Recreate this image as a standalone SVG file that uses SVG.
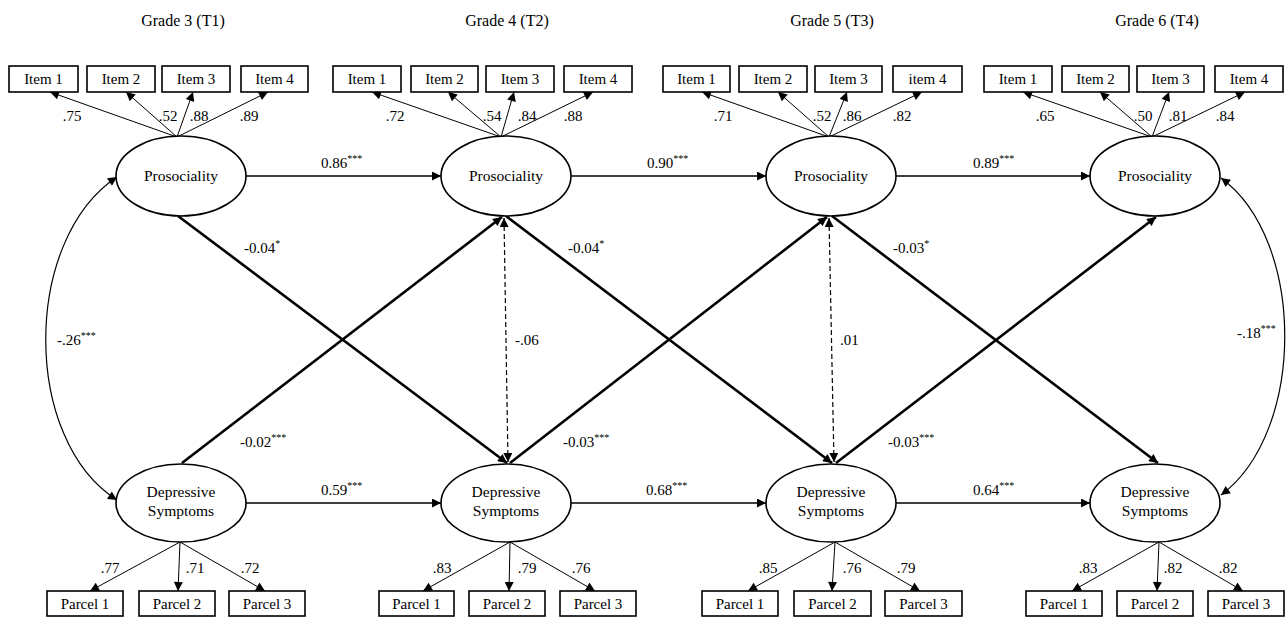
<svg xmlns="http://www.w3.org/2000/svg" width="1287" height="618" viewBox="0 0 1287 618">
<style>
text{font-family:"Liberation Serif","Times New Roman",serif;fill:#000}
.t{font-size:16px;text-anchor:middle}
.bx{fill:#fff;stroke:#000;stroke-width:1.6}
.el{fill:#fff;stroke:#000;stroke-width:1.6}
.bt{font-size:15px;text-anchor:middle}
.et{font-size:15.5px;text-anchor:middle}
.lb{font-size:15px}
.lc{font-size:15px;text-anchor:middle}
.thin{stroke:#000;stroke-width:1;fill:none;marker-end:url(#ah)}
.med{stroke:#000;stroke-width:1.6;fill:none;marker-end:url(#ah)}
.thick{stroke:#000;stroke-width:2.6;fill:none;marker-end:url(#ah)}
.dash{stroke:#000;stroke-width:1.2;fill:none;stroke-dasharray:5,3;marker-start:url(#ah);marker-end:url(#ah)}
.cov{stroke:#000;stroke-width:1.2;fill:none;marker-start:url(#ah);marker-end:url(#ah)}
.sup{font-size:10px}
</style>
<defs>
<marker id="ah" viewBox="0 0 10 10" refX="10" refY="5" markerWidth="11" markerHeight="9" markerUnits="userSpaceOnUse" orient="auto-start-reverse"><path d="M0,0 L10,5 L0,10 z" fill="#000"/></marker>
</defs>

<g id="titles">
<text class="t" x="183" y="26">Grade 3 (T1)</text>
<text class="t" x="507" y="26">Grade 4 (T2)</text>
<text class="t" x="832" y="26">Grade 5 (T3)</text>
<text class="t" x="1157" y="26">Grade 6 (T4)</text>
</g>

<g id="connectors">
<!-- item loadings -->
<line class="thin" x1="177" y1="137" x2="50" y2="92"/>
<line class="thin" x1="177" y1="137" x2="126" y2="92"/>
<line class="thin" x1="177" y1="137" x2="193" y2="92"/>
<line class="thin" x1="177" y1="137" x2="268" y2="92"/>
<line class="thin" x1="501" y1="137" x2="372" y2="92"/>
<line class="thin" x1="501" y1="137" x2="448" y2="92"/>
<line class="thin" x1="501" y1="137" x2="514" y2="92"/>
<line class="thin" x1="501" y1="137" x2="593" y2="92"/>
<line class="thin" x1="829" y1="137" x2="702" y2="92"/>
<line class="thin" x1="829" y1="137" x2="778" y2="92"/>
<line class="thin" x1="829" y1="137" x2="847" y2="92"/>
<line class="thin" x1="829" y1="137" x2="922" y2="92"/>
<line class="thin" x1="1152" y1="137" x2="1023" y2="92"/>
<line class="thin" x1="1152" y1="137" x2="1100" y2="92"/>
<line class="thin" x1="1152" y1="137" x2="1169" y2="92"/>
<line class="thin" x1="1152" y1="137" x2="1245" y2="92"/>
<!-- parcel loadings -->
<line class="thin" x1="180" y1="542" x2="90" y2="591"/>
<line class="thin" x1="180" y1="542" x2="178" y2="591"/>
<line class="thin" x1="180" y1="542" x2="265" y2="591"/>
<line class="thin" x1="510" y1="542" x2="423" y2="591"/>
<line class="thin" x1="510" y1="542" x2="509" y2="591"/>
<line class="thin" x1="510" y1="542" x2="595" y2="591"/>
<line class="thin" x1="835" y1="542" x2="748" y2="591"/>
<line class="thin" x1="835" y1="542" x2="832" y2="591"/>
<line class="thin" x1="835" y1="542" x2="920" y2="591"/>
<line class="thin" x1="1159" y1="542" x2="1072" y2="591"/>
<line class="thin" x1="1159" y1="542" x2="1157" y2="591"/>
<line class="thin" x1="1159" y1="542" x2="1243" y2="591"/>
<!-- autoregressive -->
<line class="med" x1="246" y1="176" x2="441" y2="176"/>
<line class="med" x1="571" y1="176" x2="766" y2="176"/>
<line class="med" x1="896" y1="176" x2="1090" y2="176"/>
<line class="med" x1="246" y1="503" x2="441" y2="503"/>
<line class="med" x1="571" y1="503" x2="766" y2="503"/>
<line class="med" x1="896" y1="503" x2="1090" y2="503"/>
<!-- cross-lagged -->
<line class="thick" x1="178" y1="216" x2="507" y2="463"/>
<line class="thick" x1="182" y1="463" x2="502" y2="217"/>
<line class="thick" x1="506" y1="216" x2="832" y2="463"/>
<line class="thick" x1="510" y1="463" x2="827" y2="217"/>
<line class="thick" x1="832" y1="216" x2="1158" y2="463"/>
<line class="thick" x1="836" y1="463" x2="1156" y2="217"/>
<!-- within-time residual covariances -->
<line class="dash" x1="504" y1="218" x2="508" y2="462"/>
<line class="dash" x1="829" y1="218" x2="834" y2="462"/>
<!-- T1 and T4 covariances -->
<path class="cov" d="M117,177 C22,240 22,440 117,500"/>
<path class="cov" d="M1221,178 C1306,240 1306,432 1221,495"/>
</g>

<g id="labels">
<text class="lc" x="72" y="121">.75</text>
<text class="lc" x="168" y="121">.52</text>
<text class="lc" x="199" y="121">.88</text>
<text class="lc" x="249" y="121">.89</text>
<text class="lc" x="395" y="121">.72</text>
<text class="lc" x="492" y="121">.54</text>
<text class="lc" x="527" y="121">.84</text>
<text class="lc" x="573" y="121">.88</text>
<text class="lc" x="723" y="121">.71</text>
<text class="lc" x="822" y="121">.52</text>
<text class="lc" x="852" y="121">.86</text>
<text class="lc" x="902" y="121">.82</text>
<text class="lc" x="1045" y="121">.65</text>
<text class="lc" x="1143" y="121">.50</text>
<text class="lc" x="1178" y="121">.81</text>
<text class="lc" x="1225" y="121">.84</text>

<text class="lc" x="110" y="573">.77</text>
<text class="lc" x="195" y="573">.71</text>
<text class="lc" x="250" y="573">.72</text>
<text class="lc" x="442" y="573">.83</text>
<text class="lc" x="527" y="573">.79</text>
<text class="lc" x="581" y="573">.76</text>
<text class="lc" x="768" y="573">.85</text>
<text class="lc" x="852" y="573">.76</text>
<text class="lc" x="906" y="573">.79</text>
<text class="lc" x="1088" y="573">.83</text>
<text class="lc" x="1173" y="573">.82</text>
<text class="lc" x="1228" y="573">.82</text>

<text class="lb" x="321" y="168">0.86<tspan class="sup" dy="-6">***</tspan></text>
<text class="lb" x="647" y="168">0.90<tspan class="sup" dy="-6">***</tspan></text>
<text class="lb" x="973" y="168">0.89<tspan class="sup" dy="-6">***</tspan></text>
<text class="lb" x="321" y="495">0.59<tspan class="sup" dy="-6">***</tspan></text>
<text class="lb" x="646" y="495">0.68<tspan class="sup" dy="-6">***</tspan></text>
<text class="lb" x="973" y="495">0.64<tspan class="sup" dy="-6">***</tspan></text>

<text class="lb" x="244" y="253">-0.04<tspan class="sup" dy="-6">*</tspan></text>
<text class="lb" x="568" y="253">-0.04<tspan class="sup" dy="-6">*</tspan></text>
<text class="lb" x="893" y="253">-0.03<tspan class="sup" dy="-6">*</tspan></text>
<text class="lb" x="240" y="447">-0.02<tspan class="sup" dy="-6">***</tspan></text>
<text class="lb" x="563" y="447">-0.03<tspan class="sup" dy="-6">***</tspan></text>
<text class="lb" x="888" y="447">-0.03<tspan class="sup" dy="-6">***</tspan></text>

<text class="lb" x="515" y="345">-.06</text>
<text class="lb" x="840" y="345">.01</text>
<text class="lb" x="57" y="345">-.26<tspan class="sup" dy="-6">***</tspan></text>
<text class="lb" x="1237" y="338">-.18<tspan class="sup" dy="-6">***</tspan></text>
</g>

<g id="items-T1">
<rect class="bx" x="9" y="66" width="69" height="26"/><text class="bt" x="43.5" y="84">Item 1</text>
<rect class="bx" x="87" y="66" width="68" height="26"/><text class="bt" x="121" y="84">Item 2</text>
<rect class="bx" x="162" y="66" width="68" height="26"/><text class="bt" x="196" y="84">Item 3</text>
<rect class="bx" x="241" y="66" width="67" height="26"/><text class="bt" x="274.5" y="84">Item 4</text>
</g>
<g id="items-T2">
<rect class="bx" x="333" y="66" width="68" height="26"/><text class="bt" x="367" y="84">Item 1</text>
<rect class="bx" x="411" y="66" width="67" height="26"/><text class="bt" x="444.5" y="84">Item 2</text>
<rect class="bx" x="486" y="66" width="68" height="26"/><text class="bt" x="520" y="84">Item 3</text>
<rect class="bx" x="564" y="66" width="68" height="26"/><text class="bt" x="598" y="84">Item 4</text>
</g>
<g id="items-T3">
<rect class="bx" x="663" y="66" width="67" height="26"/><text class="bt" x="696.5" y="84">Item 1</text>
<rect class="bx" x="739" y="66" width="68" height="26"/><text class="bt" x="773" y="84">Item 2</text>
<rect class="bx" x="815" y="66" width="67" height="26"/><text class="bt" x="848.5" y="84">Item 3</text>
<rect class="bx" x="893" y="66" width="69" height="26"/><text class="bt" x="927.5" y="84">item 4</text>
</g>
<g id="items-T4">
<rect class="bx" x="984" y="66" width="68" height="26"/><text class="bt" x="1018" y="84">Item 1</text>
<rect class="bx" x="1062" y="66" width="67" height="26"/><text class="bt" x="1095.5" y="84">Item 2</text>
<rect class="bx" x="1137" y="66" width="67" height="26"/><text class="bt" x="1170.5" y="84">Item 3</text>
<rect class="bx" x="1215" y="66" width="68" height="26"/><text class="bt" x="1249" y="84">Item 4</text>
</g>

<g id="prosociality-T1"><ellipse class="el" cx="181" cy="176" rx="65" ry="40"/><text class="et" x="181" y="181">Prosociality</text></g>
<g id="prosociality-T2"><ellipse class="el" cx="506" cy="176" rx="65" ry="40"/><text class="et" x="506" y="181">Prosociality</text></g>
<g id="prosociality-T3"><ellipse class="el" cx="831" cy="176" rx="65" ry="40"/><text class="et" x="831" y="181">Prosociality</text></g>
<g id="prosociality-T4"><ellipse class="el" cx="1155" cy="176" rx="65" ry="40"/><text class="et" x="1155" y="181">Prosociality</text></g>

<g id="depressive-T1"><ellipse class="el" cx="181" cy="503" rx="65" ry="39"/><text class="et" x="181" y="497">Depressive</text><text class="et" x="181" y="516">Symptoms</text></g>
<g id="depressive-T2"><ellipse class="el" cx="506" cy="503" rx="65" ry="39"/><text class="et" x="506" y="497">Depressive</text><text class="et" x="506" y="516">Symptoms</text></g>
<g id="depressive-T3"><ellipse class="el" cx="831" cy="503" rx="65" ry="39"/><text class="et" x="831" y="497">Depressive</text><text class="et" x="831" y="516">Symptoms</text></g>
<g id="depressive-T4"><ellipse class="el" cx="1155" cy="503" rx="65" ry="39"/><text class="et" x="1155" y="497">Depressive</text><text class="et" x="1155" y="516">Symptoms</text></g>

<g id="parcels-T1">
<rect class="bx" x="47" y="591" width="76" height="25"/><text class="bt" x="85" y="609">Parcel 1</text>
<rect class="bx" x="139" y="591" width="76" height="25"/><text class="bt" x="177" y="609">Parcel 2</text>
<rect class="bx" x="229" y="591" width="76" height="25"/><text class="bt" x="267" y="609">Parcel 3</text>
</g>
<g id="parcels-T2">
<rect class="bx" x="379" y="591" width="75" height="25"/><text class="bt" x="416.5" y="609">Parcel 1</text>
<rect class="bx" x="469" y="591" width="76" height="25"/><text class="bt" x="507" y="609">Parcel 2</text>
<rect class="bx" x="560" y="591" width="76" height="25"/><text class="bt" x="598" y="609">Parcel 3</text>
</g>
<g id="parcels-T3">
<rect class="bx" x="702" y="591" width="76" height="25"/><text class="bt" x="740" y="609">Parcel 1</text>
<rect class="bx" x="794" y="591" width="77" height="25"/><text class="bt" x="832.5" y="609">Parcel 2</text>
<rect class="bx" x="885" y="591" width="77" height="25"/><text class="bt" x="923.5" y="609">Parcel 3</text>
</g>
<g id="parcels-T4">
<rect class="bx" x="1026" y="591" width="76" height="25"/><text class="bt" x="1064" y="609">Parcel 1</text>
<rect class="bx" x="1117" y="591" width="76" height="25"/><text class="bt" x="1155" y="609">Parcel 2</text>
<rect class="bx" x="1208" y="591" width="76" height="25"/><text class="bt" x="1246" y="609">Parcel 3</text>
</g>
</svg>
